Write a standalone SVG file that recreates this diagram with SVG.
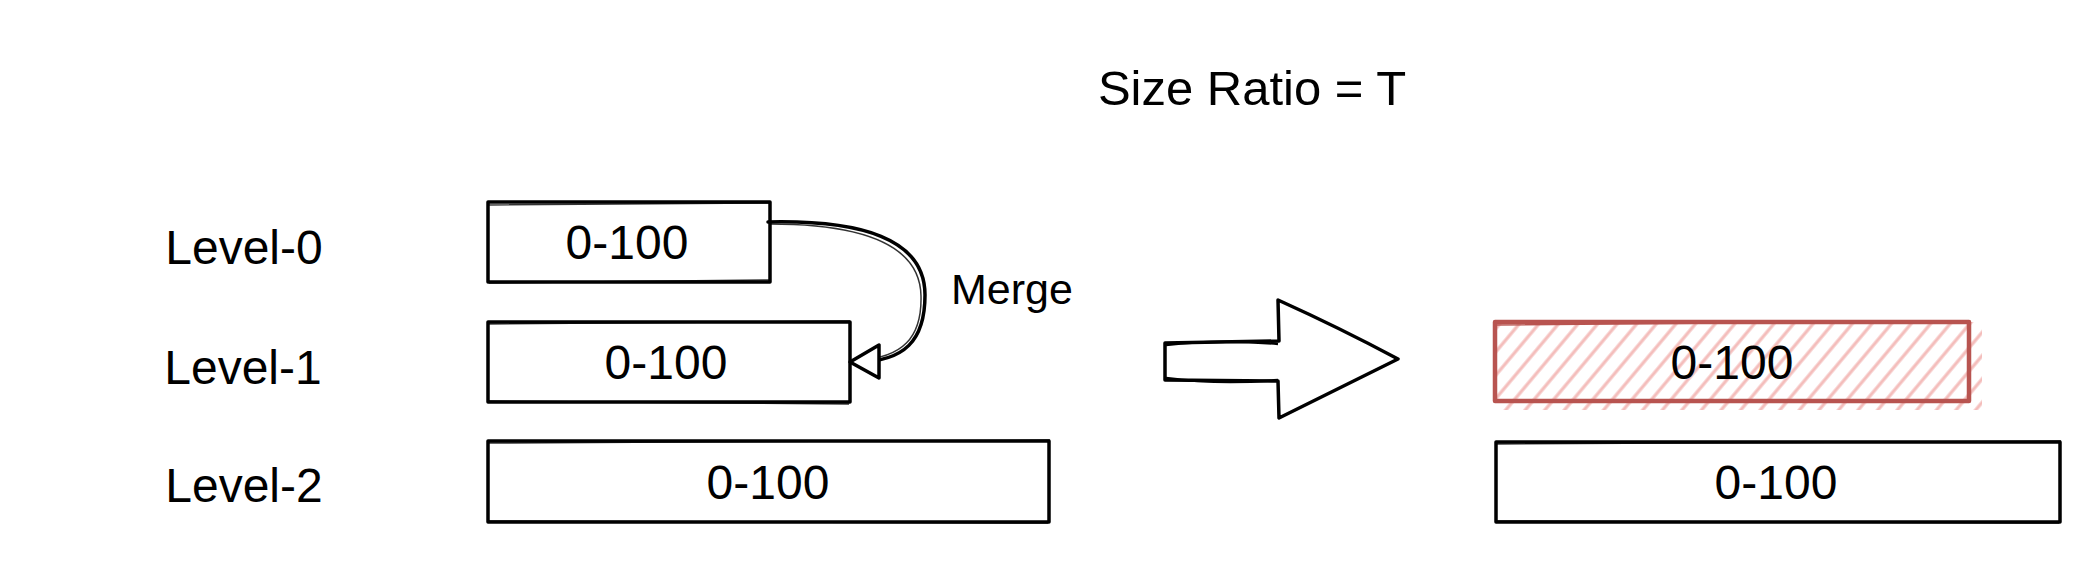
<svg xmlns="http://www.w3.org/2000/svg" width="2100" height="568" viewBox="0 0 2100 568">
<defs>
<style>
.t{font-family:"Liberation Sans","DejaVu Sans",sans-serif;fill:#000;text-anchor:middle;dominant-baseline:central}
.b{fill:#fff;stroke:#000;stroke-width:3.5;stroke-linejoin:round}
.s{fill:none;stroke:#000;stroke-width:1.5;opacity:.8}
</style>
<pattern id="hatch" width="15" height="15" patternUnits="userSpaceOnUse" patternTransform="rotate(40)">
<line x1="7" y1="0" x2="7" y2="15" stroke="#f4bdbb" stroke-width="3.2"/>
</pattern>
</defs>
<rect width="2100" height="568" fill="#fff"/>

<text class="t" x="1252" y="88" font-size="49">Size Ratio = T</text>

<g id="labels">
<text class="t" x="244" y="247" font-size="48">Level-0</text>
<text class="t" x="243" y="367" font-size="48">Level-1</text>
<text class="t" x="244" y="485" font-size="48">Level-2</text>
</g>

<g id="level0">
<rect class="b" x="488" y="202" width="282" height="80"/>
<path class="s" d="M487 205 L771 203 M489 283 L770 280"/>
<text class="t" x="627" y="242" font-size="48">0-100</text>
</g>

<g id="level1">
<rect class="b" x="488" y="322" width="362" height="80"/>
<path class="s" d="M487 324 L850 321 M489 401 L849 404"/>
<text class="t" x="666" y="362" font-size="48">0-100</text>
</g>

<g id="level2">
<rect class="b" x="488" y="441" width="561" height="81"/>
<path class="s" d="M487 443 L1050 440 M489 521 L1048 523"/>
<text class="t" x="768" y="482" font-size="48">0-100</text>
</g>

<g id="merged">
<rect x="1496" y="322" width="486" height="88" fill="url(#hatch)"/>
<rect x="1495" y="322" width="474" height="79" fill="none" stroke="#b85450" stroke-width="4.5" stroke-linejoin="round"/>
<path d="M1494 325 L1970 321 M1496 400 L1969 402" fill="none" stroke="#b85450" stroke-width="1.5"/>
<text class="t" x="1732" y="362" font-size="48">0-100</text>
</g>

<g id="level2b">
<rect class="b" x="1496" y="442" width="564" height="80"/>
<path class="s" d="M1495 444 L2061 441 M1497 521 L2059 523"/>
<text class="t" x="1776" y="482" font-size="48">0-100</text>
</g>

<g id="bigarrow">
<path d="M1165 343 L1279 341 L1278 300 Q1340 328 1398 359 Q1340 388 1279 418 L1278 381 L1165 380 Z" fill="#fff" stroke="#000" stroke-width="3.5" stroke-linejoin="round"/>
<path d="M1166 345 Q1220 339 1278 344 M1166 378 Q1220 385 1278 380" fill="none" stroke="#000" stroke-width="2.5"/>
</g>

<g id="connectors">
<path d="M768 222 C860 220 925 238 925 295 C925 340 905 362 856 362" fill="none" stroke="#000" stroke-width="3.5" stroke-linecap="round"/>
<path d="M770 224 C858 224 920 242 921 296 C922 338 902 358 858 360" fill="none" stroke="#000" stroke-width="1.5" opacity=".8"/>
<path d="M850 362 L879 345 L879 378 Z" fill="#fff" stroke="#000" stroke-width="3.5" stroke-linejoin="round"/>
<text class="t" x="1012" y="289" font-size="43">Merge</text>
</g>
</svg>
